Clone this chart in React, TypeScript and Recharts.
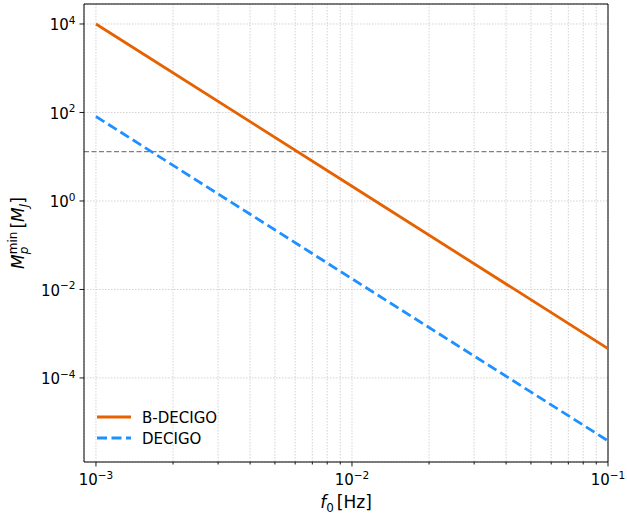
import { LineChart, Line, XAxis, YAxis, CartesianGrid, ReferenceLine } from 'recharts';

const frequencies = [1e-3, 1e-2, 1e-1];
// minimum detectable planet mass [M_J]
const bDecigoMass = [1.0e4, 2.15, 4.6e-4];
const decigoMass = [81, 1.75e-2, 3.8e-6];

const xTicks = [
  1e-3, 2e-3, 3e-3, 4e-3, 5e-3, 6e-3, 7e-3, 8e-3, 9e-3,
  1e-2, 2e-2, 3e-2, 4e-2, 5e-2, 6e-2, 7e-2, 8e-2, 9e-2, 1e-1,
];
const yTicks = [1e-4, 1e-2, 1, 1e2, 1e4];
const xDomain = [8.98e-4, 1e-1];
const yDomain = [1.26e-6, 2.83e4];
const deuteriumLimit = 13;

const series = [
  { key: 'bDecigo', name: 'B-DECIGO', color: '#e66100', dash: undefined as string | undefined },
  { key: 'decigo', name: 'DECIGO', color: '#1e90ff', dash: '10 4.5' },
];

const chartData = frequencies.map((f, i) => ({
  f,
  bDecigo: bDecigoMass[i],
  decigo: decigoMass[i],
}));

const FONT = '"DejaVu Sans", sans-serif';

function expLabel(v: number) {
  const e = Math.round(Math.log10(v));
  return e < 0 ? `\u2212${-e}` : `${e}`;
}

function isDecade(v: number) {
  const e = Math.log10(v);
  return Math.abs(e - Math.round(e)) < 1e-6;
}

function XTick({ x, y, payload }: any) {
  const v = payload.value;
  const major = isDecade(v);
  return (
    <g>
      <line x1={x} x2={x} y1={y} y2={y + (major ? 4.5 : 2.5)} stroke="#000" strokeWidth={0.9} />
      {major && (
        <text x={x} y={y + 23} textAnchor="middle" fontFamily={FONT} fontSize={15} fill="#000">
          10
          <tspan dy={-6.5} fontSize={10.5}>
            {expLabel(v)}
          </tspan>
        </text>
      )}
    </g>
  );
}

function YTick({ x, y, payload }: any) {
  const v = payload.value;
  return (
    <g>
      <line x1={x} x2={x - 4.5} y1={y} y2={y} stroke="#000" strokeWidth={0.9} />
      <text x={x - 8.5} y={y + 6.5} textAnchor="end" fontFamily={FONT} fontSize={15} fill="#000">
        10
        <tspan dy={-6.5} fontSize={10.5}>
          {expLabel(v)}
        </tspan>
      </text>
    </g>
  );
}

function XLabel({ viewBox }: any) {
  const cx = viewBox.x + viewBox.width / 2;
  return (
    <text x={cx} y={viewBox.y + 46} textAnchor="middle" fontFamily={FONT} fontSize={17} fill="#000">
      <tspan fontStyle="italic">f</tspan>
      <tspan dy={3.5} fontSize={12}>0</tspan>
      <tspan dy={-3.5} dx={3}>[Hz]</tspan>
    </text>
  );
}

function YLabel({ viewBox }: any) {
  const cx = viewBox.x + 24;
  const cy = viewBox.y + viewBox.height / 2;
  return (
    <text
      x={cx}
      y={cy}
      transform={`rotate(-90, ${cx}, ${cy})`}
      textAnchor="middle"
      fontFamily={FONT}
      fontSize={17}
      fill="#000"
    >
      <tspan fontStyle="italic">M</tspan>
      <tspan dy={4} fontSize={12} fontStyle="italic">p</tspan>
      <tspan dy={-11.5} dx={-7.5} fontSize={12}>min</tspan>
      <tspan dy={7.5} dx={3}>[</tspan>
      <tspan fontStyle="italic">M</tspan>
      <tspan dy={3.5} fontSize={12} fontStyle="italic">J</tspan>
      <tspan dy={-3.5}>]</tspan>
    </text>
  );
}

function LegendBox() {
  return (
    <svg
      width={150}
      height={46}
      style={{ position: 'absolute', left: 92, top: 406 }}
    >
      {series.map((s, i) => (
        <g key={s.key}>
          <line
            x1={5}
            x2={39}
            y1={11 + i * 21}
            y2={11 + i * 21}
            stroke={s.color}
            strokeWidth={2.8}
            strokeDasharray={s.dash}
          />
          <text x={50} y={16.5 + i * 21} fontFamily={FONT} fontSize={15} fill="#000">
            {s.name}
          </text>
        </g>
      ))}
    </svg>
  );
}

export default function App() {
  return (
    <div style={{ position: 'absolute', left: 0, top: 0, width: 627, height: 514, background: '#fff' }}>
      <LineChart
        width={627}
        height={514}
        data={chartData}
        margin={{ top: 4, right: 19, left: 0, bottom: 0 }}
      >
        <CartesianGrid stroke="#c8c8c8" strokeWidth={0.8} strokeDasharray="1.5 1.5" />
        <XAxis
          dataKey="f"
          type="number"
          scale="log"
          domain={xDomain}
          allowDataOverflow
          ticks={xTicks}
          interval={0}
          height={52}
          tickSize={0}
          tickMargin={0}
          tickLine={false}
          axisLine={{ stroke: '#000', strokeWidth: 1 }}
          tick={<XTick />}
          label={<XLabel />}
        />
        <YAxis
          type="number"
          scale="log"
          domain={yDomain}
          allowDataOverflow
          ticks={yTicks}
          interval={0}
          width={84}
          tickSize={0}
          tickMargin={0}
          tickLine={false}
          axisLine={{ stroke: '#000', strokeWidth: 1 }}
          tick={<YTick />}
          label={<YLabel />}
        />
        <ReferenceLine y={yDomain[1]} stroke="#000" strokeWidth={1} />
        <ReferenceLine x={xDomain[1]} stroke="#000" strokeWidth={1} />
        <ReferenceLine y={deuteriumLimit} stroke="#808080" strokeWidth={1.2} strokeDasharray="5 2.5" />
        {series.map((s) => (
          <Line
            key={s.key}
            dataKey={s.key}
            name={s.name}
            type="linear"
            stroke={s.color}
            strokeWidth={2.8}
            strokeDasharray={s.dash}
            dot={false}
            activeDot={false}
            isAnimationActive={false}
          />
        ))}
      </LineChart>
      <LegendBox />
    </div>
  );
}
